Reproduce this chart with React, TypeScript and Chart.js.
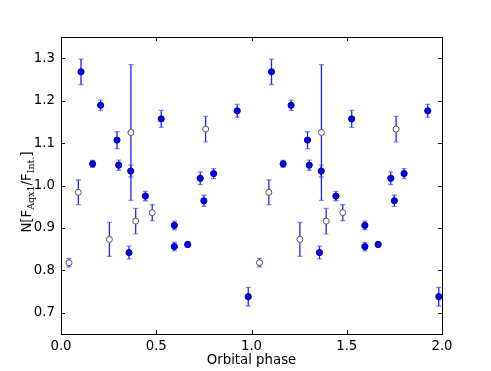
import React, { useEffect, useRef } from "react";
import { Chart, registerables } from "chart.js";
Chart.register(...registerables);

// Filled points (two phase cycles)
const filledPhase = [
  0.105, 0.166, 0.208, 0.294, 0.303, 0.357, 0.366, 0.443, 0.526, 0.595, 0.595, 0.665, 0.731, 0.75, 0.801, 0.925, 0.983,
  1.105, 1.166, 1.208, 1.294, 1.303, 1.357, 1.366, 1.443, 1.526, 1.595, 1.595, 1.665, 1.731, 1.75, 1.801, 1.925, 1.983,
];
const filledValue = [
  1.268, 1.051, 1.189, 1.107, 1.048, 0.842, 1.034, 0.975, 1.157, 0.906, 0.856, 0.861, 1.017, 0.964, 1.028, 1.176, 0.738,
  1.268, 1.051, 1.189, 1.107, 1.048, 0.842, 1.034, 0.975, 1.157, 0.906, 0.856, 0.861, 1.017, 0.964, 1.028, 1.176, 0.738,
];
const filledError = [
  0.03, 0.008, 0.012, 0.02, 0.012, 0.015, 0.014, 0.011, 0.02, 0.01, 0.01, 0.006, 0.015, 0.013, 0.012, 0.015, 0.022,
  0.03, 0.008, 0.012, 0.02, 0.012, 0.015, 0.014, 0.011, 0.02, 0.01, 0.01, 0.006, 0.015, 0.013, 0.012, 0.015, 0.022,
];

// Open points (two phase cycles)
const openPhase = [0.042, 0.091, 0.254, 0.367, 0.392, 0.479, 0.759, 1.042, 1.091, 1.254, 1.367, 1.392, 1.479, 1.759];
const openValue = [0.818, 0.984, 0.873, 1.125, 0.916, 0.936, 1.133, 0.818, 0.984, 0.873, 1.125, 0.916, 0.936, 1.133];
const openError = [0.01, 0.029, 0.04, 0.16, 0.03, 0.019, 0.03, 0.01, 0.029, 0.04, 0.16, 0.03, 0.019, 0.03];

const xTicks = [0, 0.5, 1.0, 1.5, 2.0];
const yTicks = [0.7, 0.8, 0.9, 1.0, 1.1, 1.2, 1.3];
const xTitle = "Orbital phase";

const FONT = "DejaVu Sans";

const errorBarPlugin = {
  id: "errorBars",
  beforeDatasetsDraw(chart: any) {
    const ctx = chart.ctx;
    const xs = chart.scales.x;
    const ys = chart.scales.y;
    ctx.save();
    chart.data.datasets.forEach((ds: any) => {
      ds.data.forEach((p: any, i: number) => {
        const e = ds.errors[i];
        const x = xs.getPixelForValue(p.x);
        const yt = ys.getPixelForValue(p.y + e);
        const yb = ys.getPixelForValue(p.y - e);
        ctx.strokeStyle = "rgba(10,10,255,0.9)";
        ctx.lineWidth = 1.3;
        ctx.beginPath();
        ctx.moveTo(x, yt);
        ctx.lineTo(x, yb);
        ctx.stroke();
        ctx.strokeStyle = "rgba(60,60,255,0.6)";
        ctx.lineWidth = 1.3;
        ctx.beginPath();
        ctx.moveTo(x - 2.5, yt);
        ctx.lineTo(x + 2.5, yt);
        ctx.moveTo(x - 2.5, yb);
        ctx.lineTo(x + 2.5, yb);
        ctx.stroke();
      });
    });
    ctx.restore();
  },
};

const framePlugin = {
  id: "frame",
  afterDraw(chart: any) {
    const ctx = chart.ctx;
    const { left, right, top, bottom } = chart.chartArea;
    const xs = chart.scales.x;
    const ys = chart.scales.y;
    ctx.save();
    ctx.strokeStyle = "#000";
    ctx.lineWidth = 1;
    ctx.strokeRect(Math.round(left) + 0.5, Math.round(top) + 0.5, Math.round(right - left), Math.round(bottom - top));
    ctx.beginPath();
    const L = 4;
    xTicks.forEach((v) => {
      const x = Math.round(xs.getPixelForValue(v)) + 0.5;
      ctx.moveTo(x, bottom);
      ctx.lineTo(x, bottom - L);
      ctx.moveTo(x, top);
      ctx.lineTo(x, top + L);
    });
    yTicks.forEach((v) => {
      const y = Math.round(ys.getPixelForValue(v)) + 0.5;
      ctx.moveTo(left, y);
      ctx.lineTo(left + L, y);
      ctx.moveTo(right, y);
      ctx.lineTo(right - L, y);
    });
    ctx.stroke();

    // x title
    ctx.fillStyle = "#000";
    ctx.font = `13.3px "${FONT}"`;
    ctx.textAlign = "center";
    ctx.textBaseline = "alphabetic";
    ctx.fillText(xTitle, (left + right) / 2, 364);

    // y title with subscripts
    const parts = [
      { t: "N[F", sub: false },
      { t: "Aqx1", sub: true },
      { t: "/F", sub: false },
      { t: "Int.", sub: true },
      { t: "]", sub: false },
    ];
    const mainFont = `13.3px "${FONT}"`;
    const subFont = `9.5px "DejaVu Serif"`;
    let total = 0;
    parts.forEach((p) => {
      ctx.font = p.sub ? subFont : mainFont;
      total += ctx.measureText(p.t).width;
    });
    ctx.translate(31, 192);
    ctx.rotate(-Math.PI / 2);
    ctx.textAlign = "left";
    let cx = -total / 2;
    parts.forEach((p) => {
      ctx.font = p.sub ? subFont : mainFont;
      ctx.fillText(p.t, cx, p.sub ? 3 : 0);
      cx += ctx.measureText(p.t).width;
    });
    ctx.restore();
  },
};

export default function App() {
  const ref = useRef<HTMLCanvasElement>(null);
  useEffect(() => {
    if (!ref.current) return;
    const chart = new Chart(ref.current, {
      type: "scatter",
      data: {
        datasets: [
          {
            label: "open",
            data: openPhase.map((x, i) => ({ x, y: openValue[i] })),
            errors: openError,
            backgroundColor: "#ffffff",
            borderColor: "#555555",
            borderWidth: 1,
            pointRadius: 3,
            order: 0,
          } as any,
          {
            label: "filled",
            data: filledPhase.map((x, i) => ({ x, y: filledValue[i] })),
            errors: filledError,
            backgroundColor: "#0000ff",
            borderColor: "#000080",
            borderWidth: 1,
            pointRadius: 3.1,
            order: 1,
          } as any,
        ],
      },
      options: {
        animation: false,
        responsive: false,
        devicePixelRatio: 1,
        layout: { padding: { left: 0, top: 37, right: 49, bottom: 0 } },
        plugins: { legend: { display: false }, tooltip: { enabled: false } },
        scales: {
          x: {
            type: "linear",
            min: 0,
            max: 2,
            grid: { display: false, drawTicks: false },
            border: { display: false },
            afterBuildTicks: (s: any) => {
              s.ticks = xTicks.map((v) => ({ value: v }));
            },
            afterFit: (s: any) => {
              s.height = 37;
            },
            ticks: {
              color: "#000",
              padding: 5,
              maxRotation: 0,
              font: { family: FONT, size: 13.3 },
              callback: (v: any) => Number(v).toFixed(1),
            },
          },
          y: {
            type: "linear",
            min: 0.65,
            max: 1.35,
            grid: { display: false, drawTicks: false },
            border: { display: false },
            afterBuildTicks: (s: any) => {
              s.ticks = yTicks.map((v) => ({ value: v }));
            },
            afterFit: (s: any) => {
              s.width = 61;
            },
            ticks: {
              color: "#000",
              padding: 6,
              font: { family: FONT, size: 13.3 },
              callback: (v: any) => Number(v).toFixed(1),
            },
          },
        },
      } as any,
      plugins: [errorBarPlugin, framePlugin],
    });
    return () => chart.destroy();
  }, []);
  return (
    <div style={{ position: "absolute", left: 0, top: 0, width: 491, height: 371, background: "#fff" }}>
      <canvas ref={ref} width={491} height={371} style={{ display: "block" }} />
    </div>
  );
}
